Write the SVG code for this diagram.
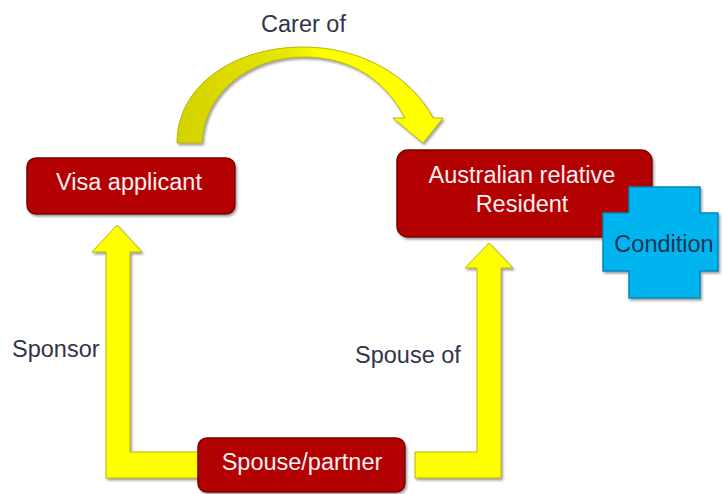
<svg xmlns="http://www.w3.org/2000/svg" width="722" height="494" viewBox="0 0 722 494">
<defs>
<filter id="sh" x="-10%" y="-10%" width="130%" height="130%">
<feDropShadow dx="1.5" dy="2" stdDeviation="1.2" flood-color="#555" flood-opacity="0.55"/>
</filter>
<linearGradient id="curveGrad" x1="0" y1="0" x2="1" y2="0">
<stop offset="0" stop-color="#D2D200"/>
<stop offset="0.4" stop-color="#E6E600"/>
<stop offset="0.55" stop-color="#FFFF00"/>
<stop offset="1" stop-color="#FFFF00"/>
</linearGradient>
<style>
.box{fill:#B30000;stroke:#7A0000;stroke-width:1.5;filter:url(#sh)}
.boxtxt{font-family:"Liberation Sans",Arial,sans-serif;font-size:23.5px;fill:#FBEFF3;text-anchor:middle}
.lbl{font-family:"Liberation Sans",Arial,sans-serif;font-size:23.5px;fill:#33334A}
.arrow{fill:#FFFF00;stroke:#B8B800;stroke-width:1;filter:url(#sh)}
.cross{fill:#00B4F0;stroke:#0088B8;stroke-width:1.5;filter:url(#sh)}
.crosstxt{font-family:"Liberation Sans",Arial,sans-serif;font-size:23.5px;fill:#1F3350;text-anchor:middle}
</style>
</defs>
<rect width="722" height="494" fill="#FFFFFF"/>
<g id="connectors">
<path class="arrow" style="fill:url(#curveGrad)" d="M177,143 C177,85 235,47 303,47 C360,47 410,75 433,118 L443,118 L423,143 L393,118 L405,118 C385,80 352,57 303,57 C250,57 204,92 202,143 Z"/>
<polygon class="arrow" points="117,225 142,252 130,252 130,452 200,452 200,478 106,478 106,252 92,252"/>
<polygon class="arrow" points="489,243 513,268 501,268 501,478 415,478 415,452 477,452 477,268 465,268"/>
<text class="lbl" x="303.5" y="32" text-anchor="middle">Carer of</text>
<text class="lbl" x="12" y="357">Sponsor</text>
<text class="lbl" x="355" y="363">Spouse of</text>
</g>
<g id="visa-applicant">
<rect class="box" x="27" y="158" width="208" height="56" rx="9"/>
<text class="boxtxt" x="129" y="190">Visa applicant</text>
</g>
<g id="australian-relative">
<rect class="box" x="397" y="150" width="255" height="87" rx="11"/>
<text class="boxtxt" x="522" y="183">Australian relative</text>
<text class="boxtxt" x="522" y="212">Resident</text>
</g>
<g id="condition">
<polygon class="cross" points="629,187 700,187 700,213 718,213 718,271 700,271 700,298 629,298 629,271 603,271 603,213 629,213"/>
<text class="crosstxt" x="664" y="252">Condition</text>
</g>
<g id="spouse-partner">
<rect class="box" x="198" y="438" width="207" height="54" rx="9"/>
<text class="boxtxt" x="302" y="470">Spouse/partner</text>
</g>
</svg>
